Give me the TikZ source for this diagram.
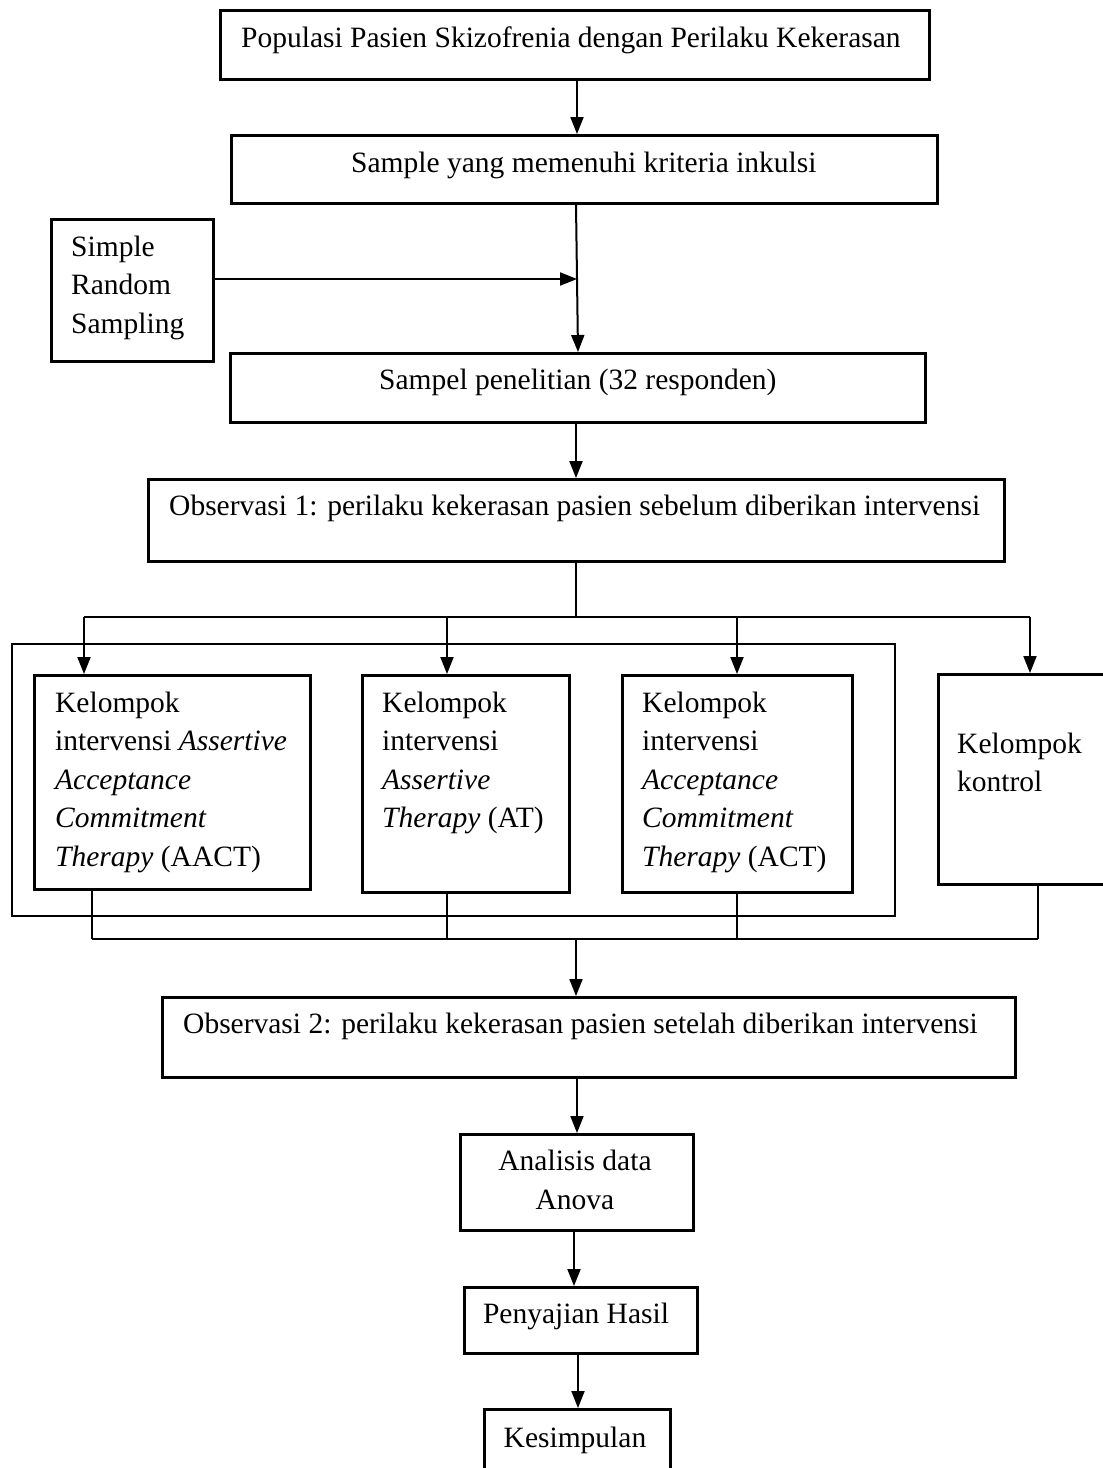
\documentclass[tikz,border=0pt]{standalone}
\usepackage{fontspec}
\setmainfont{Liberation Serif}
\usetikzlibrary{arrows.meta}
\begin{document}
\begin{tikzpicture}[x=1pt,y=-1pt,
  box/.style={draw, line width=2.8pt, inner sep=0pt, anchor=north west},
  frame/.style={draw, line width=2pt, inner sep=0pt, anchor=north west},
  conn/.style={line width=2pt},
  arr/.style={conn, -{Triangle[length=17pt,width=13pt]}},
  txt/.style={inner sep=0pt, font=\fontsize{29.5}{38.5}\selectfont},
  ltxt/.style={txt, anchor=base west, align=left},
  ctxt/.style={txt, anchor=base, align=center},
]
\useasboundingbox (0,0) rectangle (1103,1468);
\clip (0,0) rectangle (1103,1468);
\fill[white] (0,0) rectangle (1103,1468);

% boxes
\node[box, minimum width=709pt, minimum height=69pt] (b1) at (219,9) {};
\node[box, minimum width=706pt, minimum height=68pt] (b2) at (230,134) {};
\node[box, minimum width=162pt, minimum height=142pt] (srs) at (50,218) {};
\node[box, minimum width=695pt, minimum height=69pt] (b3) at (229,352) {};
\node[box, minimum width=856pt, minimum height=82pt] (obs1) at (147,478) {};
\node[frame, minimum width=883pt, minimum height=272pt] (grp) at (11,643) {};
\node[box, minimum width=276pt, minimum height=214pt] (kA) at (33,674) {};
\node[box, minimum width=207pt, minimum height=217pt] (kB) at (361,674) {};
\node[box, minimum width=230pt, minimum height=217pt] (kC) at (621,674) {};
\node[box, minimum width=180pt, minimum height=210pt] (kD) at (937,673) {};
\node[box, minimum width=853pt, minimum height=80pt] (obs2) at (161,996) {};
\node[box, minimum width=233pt, minimum height=96pt] (ana) at (459,1133) {};
\node[box, minimum width=233pt, minimum height=66pt] (pen) at (463,1286) {};
\node[box, minimum width=186pt, minimum height=90pt] (kes) at (483,1408) {};

% texts (anchor base = baseline of the last line)
\node[ltxt] (t1) at (241,47) {Populasi Pasien Skizofrenia dengan Perilaku Kekerasan};
\node[ltxt] (t2) at (351,172) {Sample yang memenuhi kriteria inkulsi};
\node[ltxt] (tsrs) at (71,333) {Simple\\Random\\Sampling};
\node[ltxt] (t3) at (379,389) {Sampel penelitian (32 responden)};
\node[ltxt] (to1) at (169,515) {Observasi 1: perilaku kekerasan pasien sebelum diberikan intervensi};
\node[ltxt] (tA) at (55,866) {Kelompok\\intervensi \textit{Assertive}\\\textit{Acceptance}\\\textit{Commitment}\\\textit{Therapy} (AACT)};
\node[ltxt] (tB) at (382,827.5) {Kelompok\\intervensi\\\textit{Assertive}\\\textit{Therapy} (AT)};
\node[ltxt] (tC) at (642,866) {Kelompok\\intervensi\\\textit{Acceptance}\\\textit{Commitment}\\\textit{Therapy} (ACT)};
\node[ltxt] (tD) at (957,791.5) {Kelompok\\kontrol};
\node[ltxt] (to2) at (183,1033) {Observasi 2: perilaku kekerasan pasien setelah diberikan intervensi};
\node[ctxt] (tana) at (575,1209) {Analisis data\\Anova};
\node[ctxt] (tpen) at (576,1323) {Penyajian Hasil};
\node[ctxt] (tkes) at (575,1447) {Kesimpulan};

% column coordinates
\coordinate (x1) at (577,0);
\coordinate (x2a) at (576,0);
\coordinate (x2b) at (578,0);
\coordinate (x3) at (576,0);
\coordinate (jsrs) at (577,279);
\coordinate (hs) at (576,617);
\coordinate (hA) at (84,617);
\coordinate (hB) at (447,617);
\coordinate (hC) at (737,617);
\coordinate (hD) at (1030,617);
\coordinate (lA) at (92,939);
\coordinate (lB) at (447,939);
\coordinate (lC) at (737,939);
\coordinate (lD) at (1038,939);
\coordinate (lm) at (576,939);
\coordinate (x4) at (577,0);
\coordinate (x5) at (574,0);
\coordinate (x6) at (578,0);

% connectors
\draw[arr] (b1.south -| x1) -- (b2.north -| x1);
\draw[arr] (b2.south -| x2a) -- (b3.north -| x2b);
\draw[arr] (srs.east |- jsrs) -- (jsrs);
\draw[arr] (b3.south -| x3) -- (obs1.north -| x3);
\draw[conn] (obs1.south -| hs) -- (hs);
\draw[conn] (hA) -- (hD);
\draw[arr] (hA) -- (kA.north -| hA);
\draw[arr] (hB) -- (kB.north -| hB);
\draw[arr] (hC) -- (kC.north -| hC);
\draw[arr] (hD) -- (kD.north -| hD);
\draw[conn] (kA.south -| lA) -- (lA);
\draw[conn] (kB.south -| lB) -- (lB);
\draw[conn] (kC.south -| lC) -- (lC);
\draw[conn] (kD.south -| lD) -- (lD);
\draw[conn] (lA) -- (lD);
\draw[arr] (lm) -- (obs2.north -| lm);
\draw[arr] (obs2.south -| x4) -- (ana.north -| x4);
\draw[arr] (ana.south -| x5) -- (pen.north -| x5);
\draw[arr] (pen.south -| x6) -- (kes.north -| x6);
\end{tikzpicture}
\end{document}
